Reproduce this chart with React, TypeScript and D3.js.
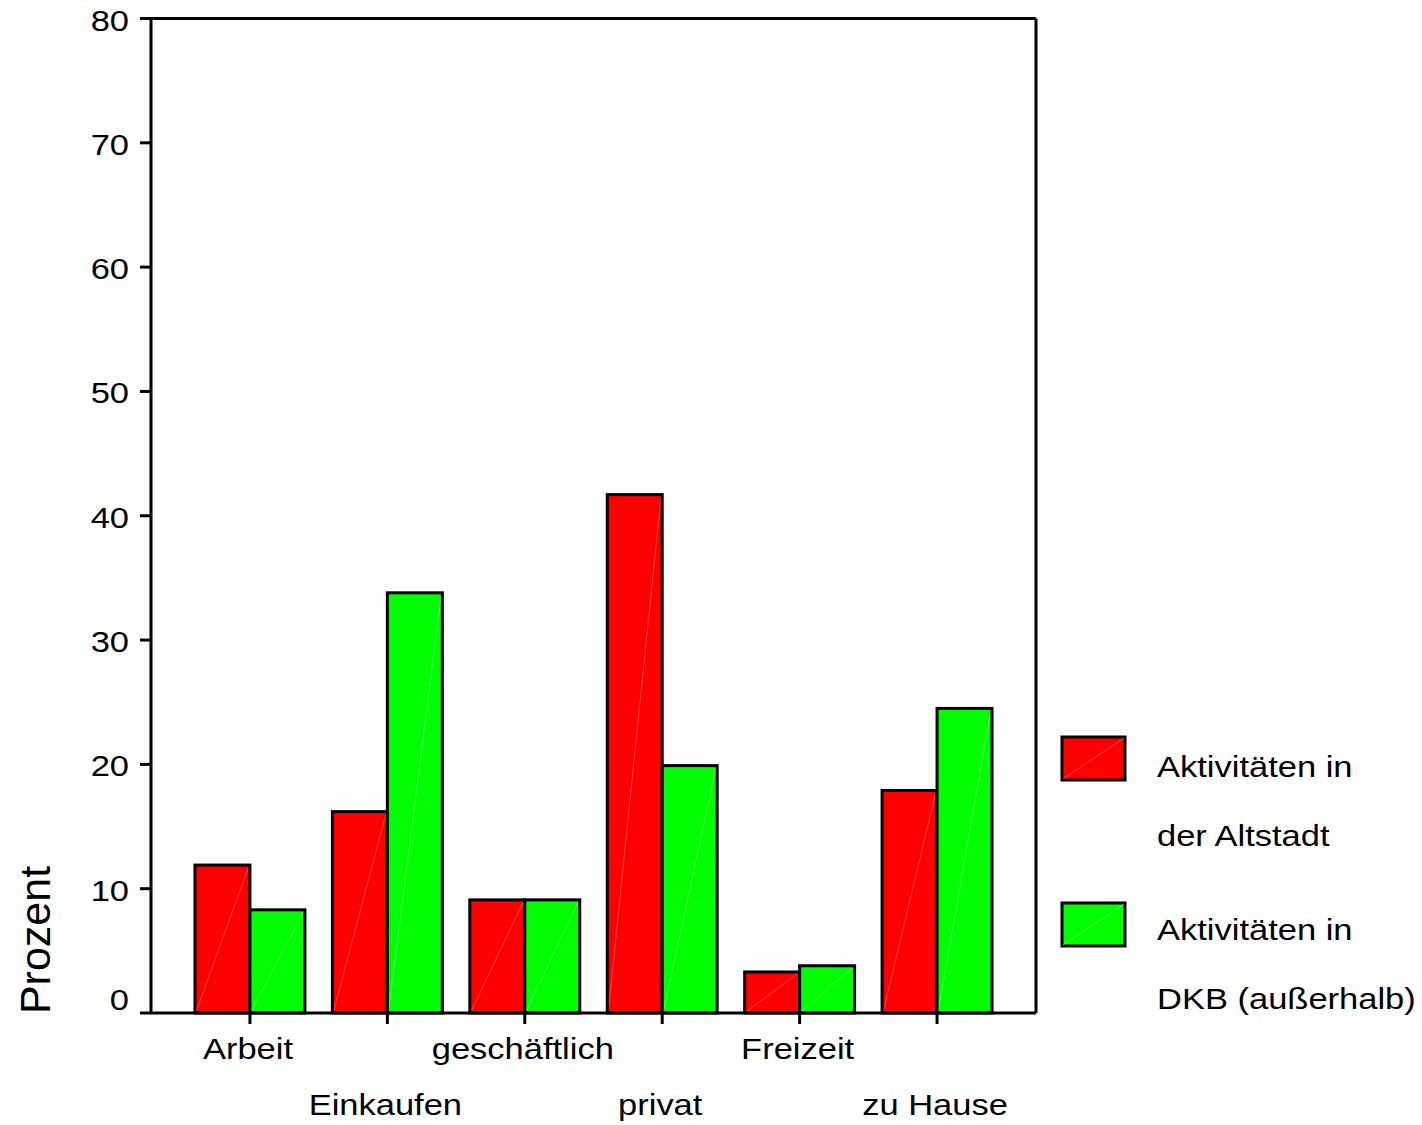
import React from "react";
import * as d3 from "d3";

const categories = ["Arbeit", "Einkaufen", "geschäftlich", "privat", "Freizeit", "zu Hause"];
const seriesNames = ["Aktivitäten in der Altstadt", "Aktivitäten in DKB (außerhalb)"];
const legendLines = [["Aktivitäten in", "der Altstadt"], ["Aktivitäten in", "DKB (außerhalb)"]];
const altstadt = [11.9, 16.2, 9.1, 41.7, 3.3, 17.9];
const dkb = [8.3, 33.8, 9.1, 19.9, 3.8, 24.5];
const colors = ["#ff0000", "#00ff00"];
const lightColors = ["#ff7070", "#80ff80"];
const yTicks = [0, 10, 20, 30, 40, 50, 60, 70, 80];

const FONT = "'Liberation Sans', Arial, sans-serif";
const SX = 1.15;

export default function App() {
  const W = 1422, H = 1125;
  const left = 151, right = 1036, top = 18.5, bottom = 1013;
  const y = d3.scaleLinear().domain([0, 80]).range([bottom, top]);
  const x0 = d3.scaleBand<string>().domain(categories).range([left, right]).paddingInner(0.2).paddingOuter(0.32);
  const x1 = d3.scaleBand<number>().domain([0, 1]).range([0, x0.bandwidth()]);
  const series = [altstadt, dkb];

  return (
    <svg width={W} height={H} style={{ position: "absolute", left: 0, top: 0, background: "#fff" }} fontFamily={FONT}>
      {/* bars */}
      {categories.map((c, i) => (
        <g key={c}>
          {series.map((s, j) => {
            const bx = (x0(c) as number) + (x1(j) as number);
            const bw = x1.bandwidth();
            const by = y(s[i]);
            return (
              <g key={j}>
                <rect x={bx} y={by} width={bw} height={bottom - by} fill={colors[j]} />
                <line x1={bx + 1} y1={bottom - 1} x2={bx + bw - 1} y2={by + 1} stroke={lightColors[j]} strokeWidth={0.8} opacity={0.8} />
                <rect x={bx} y={by} width={bw} height={bottom - by} fill="none" stroke="#000" strokeWidth={3} />
              </g>
            );
          })}
        </g>
      ))}
      {/* frame */}
      <line x1={left} y1={top} x2={right} y2={top} stroke="#000" strokeWidth={3} />
      <line x1={left} y1={top} x2={left} y2={bottom} stroke="#000" strokeWidth={3} />
      <line x1={right} y1={top} x2={right} y2={bottom} stroke="#000" strokeWidth={3} />
      <line x1={left} y1={bottom} x2={right} y2={bottom} stroke="#000" strokeWidth={3} />
      {/* y ticks */}
      {yTicks.map((t) => (
        <g key={t}>
          <line x1={left - 11} x2={left} y1={y(t)} y2={y(t)} stroke="#000" strokeWidth={3} />
          <text
            transform={`translate(129,${t === 0 ? 1010 : y(t) + 12}) scale(${SX},1)`}
            textAnchor="end"
            fontSize={30}
            fill="#000"
          >
            {t}
          </text>
        </g>
      ))}
      {/* x ticks */}
      {categories.map((c, i) => {
        const cx = (x0(c) as number) + x0.bandwidth() / 2;
        return (
          <g key={c}>
            <line x1={cx} x2={cx} y1={bottom} y2={bottom + 11} stroke="#000" strokeWidth={3} />
            <text
              transform={`translate(${cx - 2},${i % 2 === 0 ? 1059 : 1115}) scale(${SX},1)`}
              textAnchor="middle"
              fontSize={30}
              fill="#000"
            >
              {c}
            </text>
          </g>
        );
      })}
      {/* y title */}
      <text transform="translate(50,940) rotate(-90)" textAnchor="middle" fontSize={43} fill="#000">
        Prozent
      </text>
      {/* legend */}
      {seriesNames.map((n, j) => {
        const by = j === 0 ? 737 : 903;
        const ty = j === 0 ? 777 : 940;
        return (
          <g key={n}>
            <rect x={1062} y={by} width={63} height={43} fill={colors[j]} stroke="#000" strokeWidth={3} />
            <line x1={1063} y1={by + 42} x2={1124} y2={by + 1} stroke={lightColors[j]} strokeWidth={0.8} opacity={0.8} />
            {legendLines[j].map((l, k) => (
              <text key={k} transform={`translate(1157,${ty + k * 69}) scale(${SX},1)`} fontSize={30} fill="#000">
                {l}
              </text>
            ))}
          </g>
        );
      })}
    </svg>
  );
}
